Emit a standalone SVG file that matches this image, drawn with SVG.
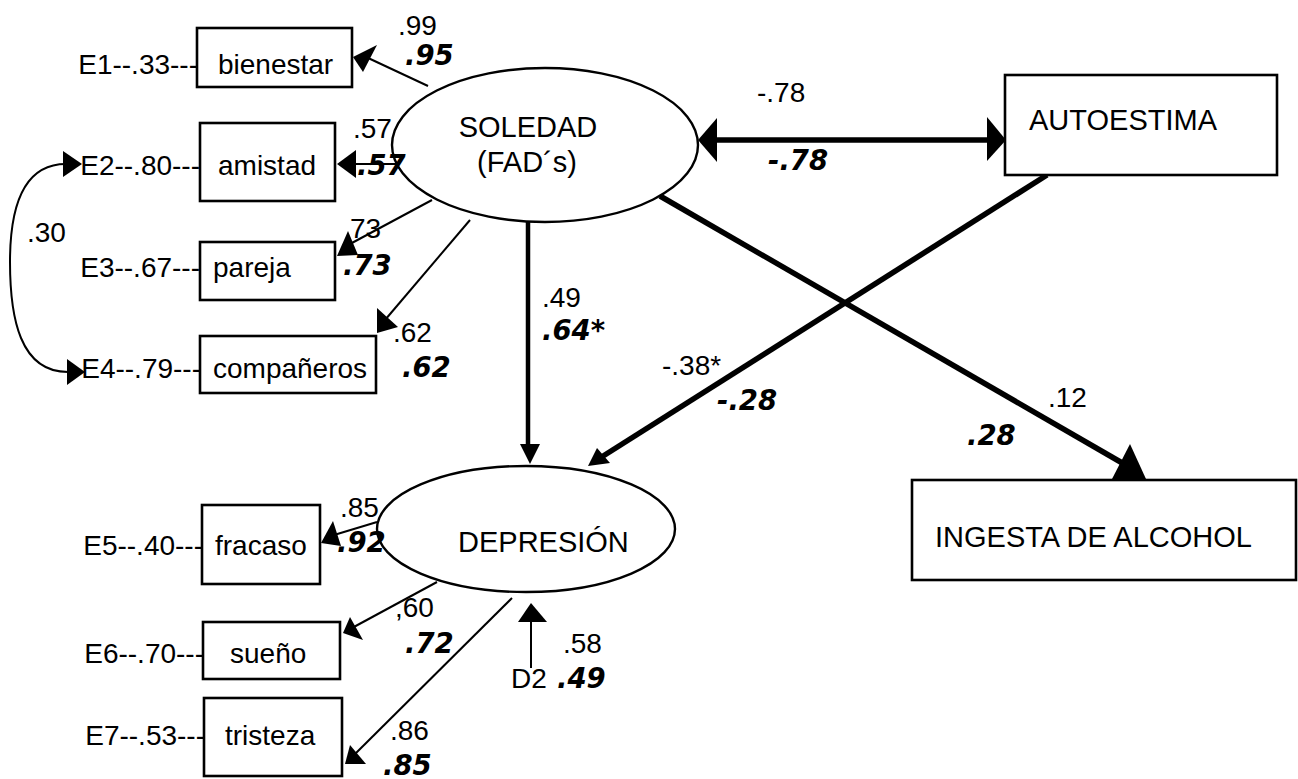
<svg xmlns="http://www.w3.org/2000/svg" width="1298" height="779" viewBox="0 0 1298 779">
  <style>
    .box { fill: #fff; stroke: #000; stroke-width: 2.6; }
    .lat { fill: #fff; stroke: #000; stroke-width: 2.4; }
    .t { font-family: "Liberation Sans", Arial, sans-serif; font-size: 28px; fill: #000; }
    .u { font-size: 29px; }
    .b { font-family: "DejaVu Sans", Verdana, sans-serif; font-size: 27.5px; font-weight: bold; font-style: italic; fill: #000; }
    .thin { fill: none; stroke: #000; stroke-width: 2; }
    .thick { fill: none; stroke: #000; stroke-width: 5.5; }
    .mid { fill: none; stroke: #000; stroke-width: 4.5; }
    .head { fill: #000; stroke: none; }
  </style>
  <rect width="1298" height="779" fill="#fff"/>

  <!-- connectors -->
  <g id="connectors">
    <!-- covariance E2 <-> E4 -->
    <path class="thin" d="M66,164 C20,164 10,215 10,262 C10,318 20,372 68,372"/>
    <polygon class="head" points="63,151 63,177 82,164"/>
    <polygon class="head" points="67,359 67,385 85,372"/>

    <!-- SOLEDAD loadings -->
    <line class="thin" x1="428" y1="86" x2="366" y2="57"/>
    <polygon class="head" points="353,57 377,45 363,72"/>
    <line class="thin" x1="396" y1="164" x2="352" y2="164"/>
    <polygon class="head" points="337,164 356,150 356,178"/>
    <line class="thin" x1="432" y1="200" x2="350" y2="244"/>
    <polygon class="head" points="337,256 348,231 358,255"/>
    <line class="thin" x1="470" y1="220" x2="385" y2="320"/>
    <polygon class="head" points="377,333 377,308 398,327"/>

    <!-- DEPRESIÓN loadings -->
    <line class="thin" x1="377" y1="522" x2="334" y2="535"/>
    <polygon class="head" points="321,543 333,521 341,546"/>
    <line class="thin" x1="437" y1="582" x2="352" y2="628"/>
    <polygon class="head" points="343,633 350,617 363,640"/>
    <line class="thin" x1="512" y1="598" x2="353" y2="756"/>
    <polygon class="head" points="345,764 350,745 366,764"/>

    <!-- D2 disturbance -->
    <line class="thin" x1="531" y1="620" x2="531" y2="668"/>
    <polygon class="head" points="531,603 518,622 547,622"/>

    <!-- SOLEDAD <-> AUTOESTIMA -->
    <line class="thick" x1="712" y1="140" x2="992" y2="140"/>
    <polygon class="head" points="698,140 717,118 717,162"/>
    <polygon class="head" points="1006,140 987,117 987,161"/>

    <!-- SOLEDAD -> DEPRESIÓN -->
    <line class="mid" x1="528" y1="222" x2="528" y2="450"/>
    <polygon class="head" points="530,464 520,444 540,444"/>

    <!-- AUTOESTIMA -> DEPRESIÓN -->
    <line class="thick" x1="1047" y1="175" x2="600" y2="458"/>
    <polygon class="head" points="588,466 597,448 610,463"/>

    <!-- SOLEDAD -> INGESTA DE ALCOHOL -->
    <line class="thick" x1="660" y1="196" x2="1124" y2="464"/>
    <polygon class="head" points="1130,444 1112,479 1146,479"/>
  </g>

  <!-- observed indicators -->
  <g id="bienestar">
    <rect class="box" x="197" y="28" width="155" height="59"/>
    <text class="t" x="218" y="74">bienestar</text>
    <text class="t" x="198" y="74" text-anchor="end">E1--.33---</text>
  </g>
  <g id="amistad">
    <rect class="box" x="200" y="123" width="135" height="78"/>
    <text class="t" x="218" y="175">amistad</text>
    <text class="t" x="200" y="175" text-anchor="end">E2--.80---</text>
  </g>
  <g id="pareja">
    <rect class="box" x="200" y="242" width="135" height="58"/>
    <text class="t" x="213" y="277">pareja</text>
    <text class="t" x="200" y="277" text-anchor="end">E3--.67---</text>
  </g>
  <g id="companeros">
    <rect class="box" x="200" y="336" width="176" height="57"/>
    <text class="t" x="213" y="378">compañeros</text>
    <text class="t" x="201" y="378" text-anchor="end">E4--.79---</text>
  </g>
  <g id="fracaso">
    <rect class="box" x="202" y="505" width="118" height="79"/>
    <text class="t" x="215" y="555">fracaso</text>
    <text class="t" x="203" y="555" text-anchor="end">E5--.40---</text>
  </g>
  <g id="sueno">
    <rect class="box" x="203" y="622" width="137" height="57"/>
    <text class="t" x="230" y="663">sueño</text>
    <text class="t" x="204" y="663" text-anchor="end">E6--.70---</text>
  </g>
  <g id="tristeza">
    <rect class="box" x="204" y="698" width="138" height="78"/>
    <text class="t" x="225" y="745">tristeza</text>
    <text class="t" x="205" y="745" text-anchor="end">E7--.53---</text>
  </g>

  <!-- latent factors -->
  <g id="soledad">
    <ellipse class="lat" cx="545" cy="145" rx="153" ry="77"/>
    <text class="t u" x="528" y="137" text-anchor="middle">SOLEDAD</text>
    <text class="t u" x="527" y="172" text-anchor="middle">(FAD´s)</text>
  </g>
  <g id="depresion">
    <ellipse class="lat" cx="526" cy="529" rx="149" ry="63"/>
    <text class="t u" x="458" y="552">DEPRESIÓN</text>
  </g>

  <!-- observed variables -->
  <g id="autoestima">
    <rect class="box" x="1005" y="75" width="272" height="100"/>
    <text class="t u" x="1029" y="130">AUTOESTIMA</text>
  </g>
  <g id="ingesta">
    <rect class="box" x="912" y="480" width="384" height="100"/>
    <text class="t u" x="935" y="547">INGESTA DE ALCOHOL</text>
  </g>

  <!-- coefficients: unstandardized (regular) and standardized (bold italic) -->
  <g id="coefficients">
    <text class="t" x="398" y="35">.99</text>
    <text class="b" x="405" y="65">.95</text>
    <text class="t" x="353" y="138">.57</text>
    <text class="b" x="357" y="175">.57</text>
    <text class="t" x="350" y="238">73</text>
    <text class="b" x="343" y="275">.73</text>
    <text class="t" x="393" y="342">.62</text>
    <text class="b" x="402" y="377">.62</text>
    <text class="t" x="27" y="242">.30</text>
    <text class="t" x="340" y="517">.85</text>
    <text class="b" x="337" y="552">.92</text>
    <text class="t" x="395" y="617">,60</text>
    <text class="b" x="405" y="653">.72</text>
    <text class="t" x="390" y="740">.86</text>
    <text class="b" x="383" y="775">.85</text>
    <text class="t" x="542" y="307">.49</text>
    <text class="b" x="542" y="340">.64*</text>
    <text class="t" x="757" y="102">-.78</text>
    <text class="b" x="768" y="170">-.78</text>
    <text class="t" x="662" y="375">-.38*</text>
    <text class="b" x="717" y="410">-.28</text>
    <text class="t" x="1048" y="407">.12</text>
    <text class="b" x="967" y="445">.28</text>
    <text class="t" x="563" y="653">.58</text>
    <text class="t" x="511" y="688">D2</text>
    <text class="b" x="557" y="688">.49</text>
  </g>
</svg>
